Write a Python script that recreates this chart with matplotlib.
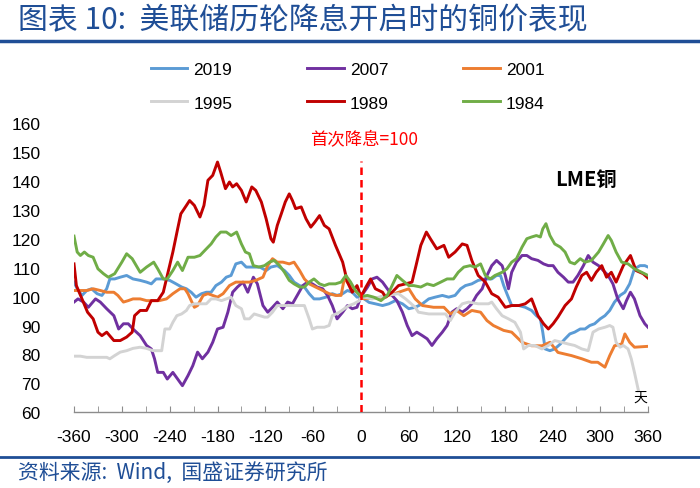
import numpy as np
import matplotlib
matplotlib.use("Agg")
from matplotlib import pyplot as plt
from matplotlib.lines import Line2D
from matplotlib.ticker import MultipleLocator

####################################
### Data (day offset from first cut, index = 100)
####################################

days_2019 = [-360, -356, -350, -344, -338, -331, -325, -319, -315, -309, -302, -294, -286, -277, -269, -263,
             -257, -248, -240, -232, -225, -219, -213, -207, -200, -194, -188, -182, -175, -169, -163, -157,
             -150, -144, -136, -127, -119, -113, -105, -96, -90, -84, -77, -71, -65, -59, -52, -44, -36, -30,
             -23, -17, -11, -5, 0, 10, 18, 27, 35, 43, 52, 60, 68, 77, 85, 93, 102, 110, 118, 125, 131, 139,
             147, 156, 164, 170, 175, 179, 183, 189, 198, 206, 214, 220, 225, 228, 231, 237, 243, 250, 256,
             262, 268, 275, 281, 287, 293, 300, 306, 312, 318, 325, 331, 337, 343, 350, 356, 360]
vals_2019 = [105, 102.7, 100.4, 102.1, 102.7, 101, 100.4, 102.7, 106.1, 106.1, 106.7, 107.3, 106.1, 105.6,
             105, 104.4, 106.1, 106.1, 105.6, 104.4, 103.3, 102.7, 101.5, 99.8, 101, 101.5, 101.5, 103.8,
             105, 106.7, 107.3, 111.3, 111.9, 110.2, 110.2, 110.2, 109, 110.2, 110.7, 109, 107.3, 105,
             103.8, 103.3, 101, 99.2, 99.2, 99.8, 101, 100.4, 101, 102.1, 101.5, 99.8, 100, 98, 97.5, 96.9,
             97.5, 98.6, 97.5, 95.8, 96.3, 97.5, 99.2, 99.8, 100.4, 99.8, 100.4, 102.7, 103.8, 104.4, 105.6,
             106.1, 106.1, 107.3, 107.3, 103.8, 101, 96.9, 96.9, 96.3, 95.2, 93.4, 92.3, 87.7, 81.9, 81.3,
             81.9, 83.6, 85.4, 87.1, 87.7, 88.8, 88.8, 90, 90.6, 92.3, 93.4, 95.2, 98.1, 100.4, 101.5,
             104.4, 109.6, 110.7, 110.7, 110.2]

days_2007 = [-360, -355, -348, -342, -333, -327, -319, -310, -304, -298, -292, -286, -277, -269, -263, -259,
             -255, -248, -243, -236, -230, -224, -217, -211, -205, -199, -192, -186, -180, -173, -167, -161,
             -155, -148, -142, -135, -130, -123, -117, -111, -105, -98, -92, -86, -80, -73, -67, -61, -55,
             -48, -42, -36, -30, -23, -17, -11, -5, 0, 8, 14, 20, 27, 33, 39, 45, 52, 58, 64, 70, 77, 83, 89,
             95, 102, 108, 114, 120, 127, 133, 139, 145, 152, 158, 164, 170, 177, 181, 185, 189, 195, 202,
             208, 214, 222, 229, 235, 241, 247, 254, 260, 266, 272, 279, 285, 291, 298, 304, 310, 316, 322,
             329, 333, 338, 343, 350, 356, 360]
vals_2007 = [98.1, 99.2, 98.1, 96.3, 99.2, 98.1, 95.8, 93.4, 88.8, 90.6, 90.6, 88.8, 86.5, 83.1, 81.9, 78.5,
             73.8, 73.8, 71.5, 73.8, 71.5, 69.2, 72.7, 76.1, 80.8, 78.5, 80.8, 84.2, 88.8, 89.4, 94.6, 101.5,
             103.3, 105, 101.5, 106.7, 104.4, 96.9, 94.6, 96.3, 98.1, 95.8, 98.1, 97.5, 100.4, 103.8, 105,
             104.4, 103.3, 102.7, 100.4, 96.9, 92.3, 94.6, 96.9, 95.8, 96.3, 100, 103.2, 106.1, 106.7, 105,
             102.7, 100.4, 98.6, 94.6, 90, 86.5, 87.7, 86.5, 85.4, 83.1, 85.4, 87.7, 90, 94.6, 95.8, 94.6,
             95.8, 97.5, 100.4, 102.7, 107.3, 110.7, 112.5, 110.7, 107.3, 102.7, 108.4, 111.9, 114.2, 114.2,
             113.1, 112.5, 111.3, 110.7, 110.7, 108.4, 106.7, 105, 105, 107.3, 110.7, 114.2, 111.9, 110.7,
             109, 107.3, 104.4, 99.2, 95.8, 98.6, 101.5, 99.2, 93.4, 90.6, 89.4]

days_2001 = [-360, -352, -344, -336, -327, -319, -310, -305, -298, -292, -286, -277, -269, -261, -253, -244,
             -236, -227, -221, -217, -213, -209, -205, -198, -192, -186, -180, -173, -165, -157, -148, -140,
             -132, -123, -117, -111, -105, -98, -90, -84, -77, -71, -65, -57, -48, -40, -32, -25, -21, -17,
             -11, -5, 0, 4, 27, 41, 60, 68, 77, 91, 104, 112, 120, 129, 139, 150, 158, 166, 179, 189, 202,
             214, 227, 237, 247, 264, 277, 289, 297, 306, 312, 318, 327, 331, 337, 343, 360]
vals_2001 = [102.1, 102.1, 102.1, 102.7, 102.1, 101.5, 101.5, 100.4, 98.1, 98.6, 99.2, 99.2, 98.6, 98.6,
             98.6, 99.2, 101, 102.7, 102.7, 101, 98.6, 96.3, 96.9, 100.4, 101, 100.4, 99.8, 101, 103.8, 105,
             105, 105, 105.6, 106.7, 110.7, 113.1, 111.9, 111.9, 111.3, 111.9, 109, 106.1, 104.4, 103.3,
             102.1, 101, 100.4, 100.4, 106.1, 105, 102.7, 101.5, 100, 99.2, 99.8, 100.9, 102.7, 99.2, 96.9,
             96.3, 96.3, 94, 95.2, 93.4, 95.2, 94.6, 91.7, 90, 88.3, 87.7, 84.2, 83, 83, 84.2, 80.7, 79.6,
             78.5, 77.3, 77.3, 75.6, 79.6, 83, 83.6, 87.1, 84.2, 82.5, 82.8]

days_1995 = [-360, -352, -344, -336, -327, -319, -315, -309, -302, -294, -286, -277, -269, -261, -250, -246,
             -240, -236, -231, -225, -219, -215, -209, -202, -194, -188, -182, -175, -169, -163, -157, -150,
             -146, -140, -134, -127, -121, -117, -111, -105, -96, -86, -77, -71, -65, -61, -55, -46, -40,
             -36, -27, -21, -15, -9, -2, 0, 14, 31, 47, 56, 68, 72, 85, 106, 112, 118, 127, 135, 147, 160,
             164, 170, 177, 185, 193, 200, 204, 210, 218, 227, 235, 243, 252, 260, 268, 277, 285, 291, 298,
             306, 312, 316, 320, 325, 329, 335, 339, 343, 348]
vals_1995 = [79.4, 79.4, 79, 79, 79, 79, 78.5, 79.6, 80.8, 81.3, 82.1, 82.5, 82.1, 81.3, 81.3, 88.8, 88.8,
             91.1, 93.4, 94, 95.2, 96.9, 97.5, 97.5, 97.5, 99.2, 99.2, 98.6, 99.2, 99.8, 96.9, 95.8, 92.3,
             92.3, 94, 93.4, 92.9, 92.9, 94.6, 96.9, 96.9, 96.9, 96.9, 96.9, 92.3, 88.8, 89.4, 89.4, 90,
             93.4, 94.6, 95.8, 96.9, 97.5, 98.6, 100, 99.2, 100.4, 101, 99.2, 96.3, 94.6, 94, 94, 91.7, 94.6,
             97.5, 98.1, 97.5, 97.5, 98.1, 95.8, 93.4, 92.3, 91.1, 87.7, 81.9, 83.1, 83.1, 81.9, 83.1, 84.8,
             84.2, 83.6, 83.1, 81.9, 81.3, 87.7, 88.8, 89.4, 90, 89.4, 84.2, 82.5, 83.1, 81.9, 78.5, 73.8,
             67.5]

days_1989 = [-360, -357, -350, -343, -336, -330, -325, -319, -310, -302, -294, -287, -284, -277, -269, -263,
             -255, -248, -243, -236, -230, -226, -219, -215, -209, -202, -197, -192, -186, -180, -176, -170,
             -165, -161, -156, -150, -144, -137, -132, -125, -119, -113, -110, -105, -100, -95, -90, -86,
             -82, -75, -69, -63, -58, -52, -46, -40, -32, -23, -17, -11, -5, 0, 6, 12, 18, 27, 31, 39, 47,
             56, 64, 69, 75, 82, 87, 95, 104, 110, 118, 127, 133, 139, 147, 156, 164, 172, 181, 189, 198,
             206, 214, 222, 229, 235, 241, 247, 256, 264, 270, 277, 283, 289, 295, 302, 308, 314, 320, 329,
             338, 345, 354, 360]
vals_1989 = [111.3, 103.8, 99.2, 94.6, 92.3, 87.7, 86.5, 87.7, 84.8, 84.8, 86, 87.7, 93.4, 95.2, 95.2, 98.6,
             98.6, 101.5, 107.3, 115.4, 123.4, 128.6, 131.5, 133.2, 131.5, 127.5, 131.5, 140.2, 141.9, 146.5,
             143, 137.3, 139.6, 137.9, 139, 136.7, 132.7, 137.9, 136.7, 132.7, 126.9, 120, 118.8, 124.6,
             128.6, 132.7, 135.5, 133.2, 130.4, 131, 126.9, 124, 125.7, 128, 124.6, 123.4, 117.7, 111.9, 105,
             101.5, 103.8, 100, 103.2, 106.1, 102.7, 101.5, 99.8, 101.5, 103.8, 104.4, 105, 110.7, 117.7,
             122.3, 120, 116.5, 117.7, 113.6, 115.4, 118.2, 117.7, 112.5, 107.3, 105, 101, 99.8, 96.3, 96.9,
             96.9, 97.5, 99.2, 93.4, 90.6, 88.8, 90.6, 92.9, 96.9, 99.2, 103.3, 107.3, 108.4, 105.6, 108.4,
             110.7, 106.7, 108.4, 105, 110.7, 114.2, 109, 107.9, 106.4]

days_1984 = [-360, -356, -352, -347, -342, -336, -330, -323, -317, -309, -300, -294, -287, -277, -269, -260,
             -255, -248, -243, -236, -230, -224, -217, -209, -202, -194, -188, -182, -176, -169, -163, -156,
             -150, -145, -140, -135, -128, -121, -115, -109, -102, -96, -90, -84, -77, -71, -65, -59, -52,
             -46, -40, -32, -25, -19, -13, -7, 0, 8, 16, 25, 33, 39, 45, 52, 60, 66, 75, 83, 91, 100, 108,
             116, 122, 129, 137, 143, 150, 156, 162, 168, 177, 183, 189, 195, 202, 208, 214, 220, 225, 228,
             232, 237, 243, 250, 256, 262, 268, 275, 281, 289, 298, 304, 310, 314, 320, 327, 335, 343, 352,
             360]
vals_1984 = [120.9, 115.4, 114.2, 115.4, 114.2, 113.6, 109.6, 107.9, 106.7, 107.9, 111.9, 114.8, 113.1, 108.4,
             110.2, 111.9, 109.6, 106.1, 106.1, 109, 111.9, 109, 113.6, 113.6, 114.2, 116.5, 118.2, 120.6,
             122.3, 122.3, 121.1, 122.3, 118.2, 115.4, 114.8, 110.7, 110.2, 110.7, 111.9, 112.5, 110.7,
             108.4, 105.6, 104.4, 103.3, 103.3, 105, 106.1, 104.4, 103.8, 104.4, 104.4, 105, 107.3, 105,
             102.1, 100, 100.4, 99.8, 98.6, 100.4, 103.8, 107.3, 105.6, 103.8, 103.8, 103.3, 104.4, 103.8,
             105, 106.1, 106.1, 108.4, 110.2, 110.7, 110.2, 111.3, 107.3, 106.1, 107.3, 108.4, 109.6, 111.9,
             113.1, 117.1, 120, 120.6, 121.1, 120.6, 123.4, 125.2, 121.1, 118.2, 117.1, 115.4, 111.9, 111.3,
             113.1, 111.9, 112.5, 115.4, 118.2, 121.1, 119.4, 115.4, 111.9, 111.3, 109.6, 108.4, 107.3]

series = [
    ("2019", days_2019, vals_2019, "#5B9BD5"),
    ("2007", days_2007, vals_2007, "#7030A0"),
    ("2001", days_2001, vals_2001, "#ED7D31"),
    ("1995", days_1995, vals_1995, "#D3D3D3"),
    ("1989", days_1989, vals_1989, "#C00000"),
    ("1984", days_1984, vals_1984, "#70AD47"),
]

x_ticks = [-360, -300, -240, -180, -120, -60, 0, 60, 120, 180, 240, 300, 360]
y_ticks = [60, 70, 80, 90, 100, 110, 120, 130, 140, 150, 160]

######################
### Figure setup
######################

plt.rcParams["axes.unicode_minus"] = False
plt.rcParams["font.family"] = ["Liberation Sans", "Noto Sans CJK SC", "DejaVu Sans"]
cjk = ["Noto Sans CJK SC", "DejaVu Sans"]
navy = "#1F4E96"

fig = plt.figure(figsize=(7, 4.89), dpi=100)
ax = fig.add_axes([74 / 700, 1 - 413.3 / 489, 574 / 700, (413.3 - 124) / 489])

lines = {}
for name, d, v, c in series:
    ln, = ax.plot(d, v, color=c, lw=2.1, solid_joinstyle="round", label=name)
    lines[name] = ln

######################
### Axes style
######################

ax.set_xlim(-360, 360)
ax.set_ylim(60, 160)
ax.set_xticks(x_ticks)
ax.xaxis.set_minor_locator(MultipleLocator(30))
ax.set_yticks(y_ticks)
for s in ["top", "right", "left"]:
    ax.spines[s].set_visible(False)
ax.spines["bottom"].set_color("#8C8C8C")
ax.spines["bottom"].set_linewidth(1.0)
ax.tick_params(axis="x", which="both", direction="in", length=4, color="#8C8C8C",
               labelsize=12.5, pad=12)
ax.tick_params(axis="y", length=0, labelsize=12.5, pad=24)

# first cut marker
ax.plot([0, 0], [60, 147], color="#FF0000", lw=1.8, ls=(0, (3, 2)), zorder=5)
ax.text(4, 154.5, "首次降息=100", color="#FF0000", fontsize=12.5, ha="center", va="center", family=cjk)
ax.text(282, 140.7, "LME铜", fontsize=14.5, fontweight="bold", ha="center", va="center", family=cjk)
ax.text(350, 65.3, "天", fontsize=10, ha="center", va="center", family=cjk)

######################
### Legend (row-major layout)
######################

order = ["2019", "1995", "2007", "1989", "2001", "1984"]
fig.legend([lines[k] for k in order], order, loc="upper left", bbox_to_anchor=(151 / 700, 1 - 63 / 489),
           ncol=3, frameon=False, fontsize=12.5, handlelength=2.1, handletextpad=0.35,
           columnspacing=4.3, labelspacing=1.05, borderpad=0, borderaxespad=0)

######################
### Title / source
######################

fig.text(18 / 700, 1 - 21 / 489, "图表 10:  美联储历轮降息开启时的铜价表现", fontsize=21.5,
         style="italic", color=navy, va="center", ha="left", family=cjk)
fig.add_artist(Line2D([0, 1], [1 - 42 / 489] * 2, color=navy, lw=2.5))
fig.add_artist(Line2D([0, 1], [1 - 458 / 489] * 2, color=navy, lw=2.0))
fig.text(18 / 700, 1 - 473 / 489, "资料来源:  Wind,  国盛证券研究所", fontsize=15,
         style="italic", color=navy, va="center", ha="left", family=cjk)

fig.savefig("out.png", dpi=100)
